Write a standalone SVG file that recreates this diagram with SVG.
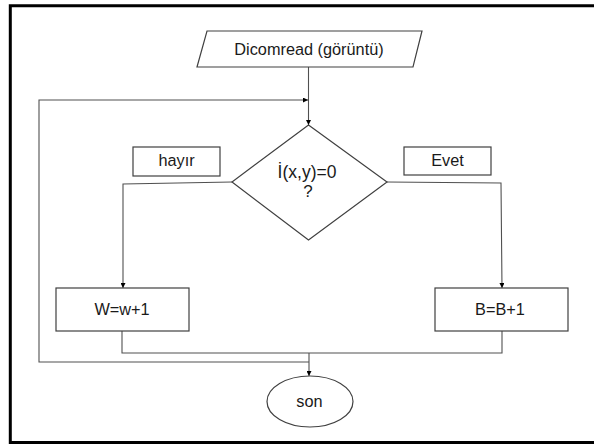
<svg xmlns="http://www.w3.org/2000/svg" width="594" height="445" viewBox="0 0 594 445">
<style>
.shape{fill:#ffffff;stroke:#404040;stroke-width:1.2}
.conn{fill:none;stroke:#505050;stroke-width:1.1}
.lbl{font-family:"Liberation Sans",Arial,sans-serif;font-size:16.3px;fill:#1a1a1a;text-anchor:middle}
</style>
<defs>
<marker id="arr" viewBox="0 0 10 10" refX="10" refY="5" markerWidth="5" markerHeight="5" markerUnits="userSpaceOnUse" orient="auto">
<path d="M0,0 L10,5 L0,10 z" fill="#000000"/>
</marker>
</defs>
<rect x="0" y="0" width="594" height="445" fill="#ffffff"/>
<path d="M600 5.8 H10.3 V442.6 H600" fill="none" stroke="#000000" stroke-width="3"/>
<g id="connectors">
<path class="conn" d="M308.5 67 V125" marker-end="url(#arr)"/>
<path class="conn" d="M309 362 H39 V100 H308" marker-end="url(#arr)"/>
<path class="conn" d="M232 182 L123 184 V288" marker-end="url(#arr)"/>
<path class="conn" d="M387 182 L501 183 L502 288" marker-end="url(#arr)"/>
<path class="conn" d="M122 331 V353 H502 V331"/>
<path class="conn" d="M309 353 V376" marker-end="url(#arr)"/>
</g>
<g id="input">
<polygon class="shape" points="207,31 422,31 413,67 197,67"/>
<text class="lbl" x="309" y="55">Dicomread (görüntü)</text>
</g>
<g id="decision">
<polygon class="shape" points="308.5,125 387,182 308.5,240 232,182"/>
<text class="lbl" x="307" y="178" style="font-size:17.5px">İ(x,y)=0</text>
<text class="lbl" x="308" y="197" style="font-size:17px">?</text>
</g>
<g id="label-hayir">
<rect class="shape" x="133" y="147" width="87" height="29"/>
<text class="lbl" x="176.5" y="166">hayır</text>
</g>
<g id="label-evet">
<rect class="shape" x="404" y="147" width="87" height="28"/>
<text class="lbl" x="447.5" y="166">Evet</text>
</g>
<g id="w-box">
<rect class="shape" x="56" y="288" width="133" height="43"/>
<text class="lbl" x="122" y="315">W=w+1</text>
</g>
<g id="b-box">
<rect class="shape" x="435" y="288" width="133" height="43"/>
<text class="lbl" x="500" y="315">B=B+1</text>
</g>
<g id="end">
<ellipse class="shape" cx="310" cy="401.5" rx="43" ry="25.5"/>
<text class="lbl" x="309.5" y="406.5">son</text>
</g>
</svg>
